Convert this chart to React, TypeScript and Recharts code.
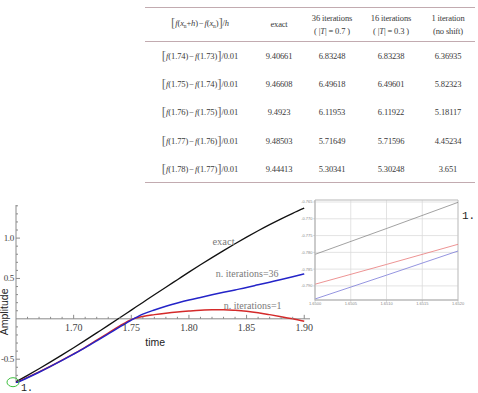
import React from "react";
import {
  CartesianGrid,
  Line,
  LineChart,
  ReferenceArea,
  ReferenceDot,
  ReferenceLine,
  XAxis,
  YAxis,
} from "recharts";

const SERIF = '"Liberation Serif", "DejaVu Serif", serif';
const SANS = '"Liberation Sans", Arial, sans-serif';
const MONO = '"Liberation Mono", "DejaVu Sans Mono", monospace';

const AXIS = "#8a8a8a";
const TICK_TEXT = "#444";
const NOTE = "#7a7a7a";
const EXACT_C = "#111111";
const IT36_C = "#2424c8";
const IT1_C = "#d42a2a";
const RULE = "#c2abb0";

// difference quotients table
const DIFF_UPPER = [1.74, 1.75, 1.76, 1.77, 1.78];
const DIFF_LOWER = [1.73, 1.74, 1.75, 1.76, 1.77];
const STEP = 0.01;
const DQ_EXACT = [9.40661, 9.46608, 9.4923, 9.48503, 9.44413];
const DQ_IT36 = [6.83248, 6.49618, 6.11953, 5.71649, 5.30341];
const DQ_IT16 = [6.83238, 6.49601, 6.11922, 5.71596, 5.30248];
const DQ_IT1 = [6.36935, 5.82323, 5.18117, 4.45234, 3.651];

// main plot
const TIME = [
  1.65, 1.66, 1.67, 1.68, 1.69, 1.7, 1.71, 1.72, 1.73, 1.74, 1.75, 1.76, 1.77,
  1.78, 1.79, 1.8, 1.81, 1.82, 1.83, 1.84, 1.85, 1.86, 1.87, 1.88, 1.89, 1.9,
];
const EXACT = [
  -0.781, -0.701, -0.619, -0.534, -0.447, -0.358, -0.267, -0.174, -0.081,
  0.013, 0.108, 0.203, 0.298, 0.392, 0.485, 0.578, 0.669, 0.758, 0.845, 0.93,
  1.012, 1.091, 1.167, 1.239, 1.307, 1.371,
];
const ITER36 = [
  -0.794, -0.73, -0.662, -0.59, -0.515, -0.437, -0.357, -0.273, -0.187, -0.1,
  -0.015, 0.058, 0.11, 0.155, 0.195, 0.232, 0.265, 0.297, 0.328, 0.358, 0.388,
  0.421, 0.454, 0.487, 0.521, 0.556,
];
const ITER1 = [
  -0.7895, -0.725, -0.658, -0.587, -0.512, -0.434, -0.353, -0.265, -0.176,
  -0.088, -0.01, 0.03, 0.052, 0.07, 0.085, 0.097, 0.107, 0.112, 0.112, 0.105,
  0.093, 0.075, 0.052, 0.027, 0.0, -0.03,
];

const X_MAJOR = [1.7, 1.75, 1.8, 1.85, 1.9];
const X_MINOR = [
  1.66, 1.67, 1.68, 1.69, 1.71, 1.72, 1.73, 1.74, 1.76, 1.77, 1.78, 1.79, 1.81,
  1.82, 1.83, 1.84, 1.86, 1.87, 1.88, 1.89,
];
const Y_MAJOR = [-0.5, 0.5, 1.0];
const Y_MINOR = [
  -0.7, -0.6, -0.4, -0.3, -0.2, -0.1, 0.1, 0.2, 0.3, 0.4, 0.6, 0.7, 0.8, 0.9,
  1.1, 1.2, 1.3, 1.4,
];

// zoom on the first two thousandths of the interval
const INSET_T = [1.65, 1.651, 1.652];
const INSET_EXACT = [-0.7806, -0.7729, -0.7651];
const INSET_IT1 = [-0.7895, -0.7836, -0.7776];
const INSET_IT36 = [-0.7939, -0.7868, -0.7796];
const INSET_X_TICKS = [1.65, 1.6505, 1.651, 1.6515, 1.652];
const INSET_Y_TICKS = [-0.79, -0.785, -0.78, -0.775, -0.77, -0.765];

const mainRows = TIME.map((t, i) => ({
  t,
  exact: EXACT[i],
  it36: ITER36[i],
  it1: ITER1[i],
}));

const insetRows = INSET_T.map((t, i) => ({
  t,
  exact: INSET_EXACT[i],
  it1: INSET_IT1[i],
  it36: INSET_IT36[i],
}));

const Br = ({ children }: { children: React.ReactNode }) => (
  <span style={{ fontSize: 13, fontWeight: 300, color: "#666", verticalAlign: "-1px" }}>
    {children}
  </span>
);

function Formula({ a, b, h }: { a: string; b: string; h: string }) {
  return (
    <span style={{ whiteSpace: "nowrap", letterSpacing: -0.1 }}>
      <Br>[</Br>
      <i>f</i>({a})<span style={{ margin: "0 1px" }}>−</span>
      <i>f</i>({b})<Br>]</Br>/{h}
    </span>
  );
}

function HeaderFormula() {
  const sub = { fontSize: 5.5, verticalAlign: "-2px" };
  return (
    <span style={{ whiteSpace: "nowrap" }}>
      <Br>[</Br>
      <i>f</i>(<i>x</i>
      <span style={sub}>n</span>+<i>h</i>)<span style={{ margin: "0 1px" }}>−</span>
      <i>f</i>(<i>x</i>
      <span style={sub}>n</span>)<Br>]</Br>/<i>h</i>
    </span>
  );
}

function Table() {
  const cell: React.CSSProperties = {
    padding: 0,
    textAlign: "center",
    verticalAlign: "middle",
    letterSpacing: -0.15,
  };
  const head: React.CSSProperties = { ...cell, lineHeight: "13px", fontWeight: 400 };
  return (
    <table
      style={{
        position: "absolute",
        left: 145,
        top: 7,
        width: 330,
        borderCollapse: "collapse",
        tableLayout: "fixed",
        fontFamily: SERIF,
        fontSize: 8.5,
        color: "#3a3a3a",
        borderTop: `1.5px solid ${RULE}`,
        borderBottom: `1.5px solid ${RULE}`,
      }}
    >
      <colgroup>
        <col style={{ width: 110 }} />
        <col style={{ width: 48 }} />
        <col style={{ width: 58 }} />
        <col style={{ width: 60 }} />
        <col style={{ width: 54 }} />
      </colgroup>
      <thead>
        <tr style={{ height: 34, borderBottom: `1px solid ${RULE}` }}>
          <th style={head}>
            <HeaderFormula />
          </th>
          <th style={head}>exact</th>
          <th style={head}>
            36 iterations
            <br />( |<i>T</i>| = 0.7 )
          </th>
          <th style={head}>
            16 iterations
            <br />( |<i>T</i>| = 0.3 )
          </th>
          <th style={head}>
            1 iteration
            <br />
            (no shift)
          </th>
        </tr>
      </thead>
      <tbody>
        {DIFF_UPPER.map((u, i) => (
          <tr key={u} style={{ height: 28.3 }}>
            <td style={cell}>
              <Formula
                a={u.toFixed(2)}
                b={DIFF_LOWER[i].toFixed(2)}
                h={STEP.toFixed(2)}
              />
            </td>
            <td style={cell}>{String(DQ_EXACT[i])}</td>
            <td style={cell}>{String(DQ_IT36[i])}</td>
            <td style={cell}>{String(DQ_IT16[i])}</td>
            <td style={cell}>{String(DQ_IT1[i])}</td>
          </tr>
        ))}
      </tbody>
    </table>
  );
}

const note =
  (text: string, style: React.SVGProps<SVGTextElement>) => (p: any) =>
    (
      <text
        x={p.cx}
        y={p.cy}
        textAnchor="middle"
        dominantBaseline="central"
        {...style}
      >
        {text}
      </text>
    );

function MainChart() {
  return (
    <div style={{ position: "absolute", left: 0, top: 195 }}>
      <LineChart
        width={320}
        height={198}
        data={mainRows}
        margin={{ top: 10, right: 10, bottom: 10, left: 16 }}
      >
        <XAxis dataKey="t" type="number" domain={[1.65, 1.905]} hide allowDataOverflow />
        <YAxis type="number" domain={[-0.795, 1.41]} hide allowDataOverflow />

        {/* axes crossing at the origin of the frame */}
        <ReferenceLine y={0} stroke={AXIS} strokeWidth={1} ifOverflow="visible" />
        <ReferenceLine x={1.65} stroke={AXIS} strokeWidth={1} ifOverflow="visible" />

        {X_MINOR.map((v) => (
          <ReferenceDot
            key={`xm${v}`}
            x={v}
            y={0}
            ifOverflow="visible"
            shape={(p: any) => (
              <line x1={p.cx} x2={p.cx} y1={p.cy} y2={p.cy - 2} stroke={AXIS} />
            )}
          />
        ))}
        {X_MAJOR.map((v) => (
          <ReferenceDot
            key={`xM${v}`}
            x={v}
            y={0}
            ifOverflow="visible"
            shape={(p: any) => (
              <g>
                <line x1={p.cx} x2={p.cx} y1={p.cy} y2={p.cy - 4} stroke={AXIS} />
                <text
                  x={p.cx}
                  y={p.cy + 9}
                  textAnchor="middle"
                  dominantBaseline="central"
                  fontFamily={SERIF}
                  fontSize={10}
                  fill={TICK_TEXT}
                >
                  {v.toFixed(2)}
                </text>
              </g>
            )}
          />
        ))}
        {Y_MINOR.map((v) => (
          <ReferenceDot
            key={`ym${v}`}
            x={1.65}
            y={v}
            ifOverflow="visible"
            shape={(p: any) => (
              <line x1={p.cx} x2={p.cx + 2} y1={p.cy} y2={p.cy} stroke={AXIS} />
            )}
          />
        ))}
        {Y_MAJOR.map((v) => (
          <ReferenceDot
            key={`yM${v}`}
            x={1.65}
            y={v}
            ifOverflow="visible"
            shape={(p: any) => (
              <g>
                <line x1={p.cx} x2={p.cx + 4} y1={p.cy} y2={p.cy} stroke={AXIS} />
                <text
                  x={p.cx - 2}
                  y={p.cy}
                  textAnchor="end"
                  dominantBaseline="central"
                  fontFamily={SERIF}
                  fontSize={9}
                  letterSpacing={-0.3}
                  fill={TICK_TEXT}
                >
                  {v.toFixed(1)}
                </text>
              </g>
            )}
          />
        ))}

        <Line
          type="monotone"
          dataKey="exact"
          stroke={EXACT_C}
          strokeWidth={1.3}
          dot={false}
          isAnimationActive={false}
        />
        <Line
          type="monotone"
          dataKey="it1"
          stroke={IT1_C}
          strokeWidth={1.5}
          dot={false}
          isAnimationActive={false}
        />
        <Line
          type="monotone"
          dataKey="it36"
          stroke={IT36_C}
          strokeWidth={1.5}
          dot={false}
          isAnimationActive={false}
        />

        <ReferenceDot
          x={1.83}
          y={0.96}
          ifOverflow="visible"
          shape={note("exact", { fontFamily: SERIF, fontSize: 10.5, fill: NOTE })}
        />
        <ReferenceDot
          x={1.8505}
          y={0.556}
          ifOverflow="visible"
          shape={note("n. iterations=36", { fontFamily: SERIF, fontSize: 10, fill: NOTE })}
        />
        <ReferenceDot
          x={1.8553}
          y={0.164}
          ifOverflow="visible"
          shape={note("n. iterations=1", { fontFamily: SERIF, fontSize: 10, fill: NOTE })}
        />
        <ReferenceDot
          x={1.7707}
          y={-0.284}
          ifOverflow="visible"
          shape={note("time", { fontFamily: SANS, fontSize: 10.5, fill: "#222" })}
        />
        <ReferenceDot
          x={1.65}
          y={0.086}
          ifOverflow="visible"
          shape={(p: any) => (
            <text
              x={p.cx - 7.5}
              y={p.cy}
              transform={`rotate(-90 ${p.cx - 7.5} ${p.cy})`}
              textAnchor="middle"
              fontFamily={SANS}
              fontSize={10.5}
              fill="#222"
            >
              Amplitude
            </text>
          )}
        />
        {/* marker on the starting point */}
        <ReferenceDot
          x={1.65}
          y={-0.785}
          ifOverflow="visible"
          shape={(p: any) => (
            <g>
              <ellipse
                cx={p.cx - 3}
                cy={p.cy}
                rx={6}
                ry={4.5}
                fill="none"
                stroke="#3cbf3c"
                strokeWidth={1}
              />
              <text
                x={p.cx + 5}
                y={p.cy + 9}
                fontFamily={MONO}
                fontSize={10}
                fill="#222"
              >
                1.
              </text>
            </g>
          )}
        />
      </LineChart>
    </div>
  );
}

function InsetChart() {
  const tick = { fontSize: 4, fill: "#888", fontFamily: SANS };
  return (
    <div style={{ position: "absolute", left: 300, top: 195 }}>
      <LineChart
        width={166}
        height={115}
        data={insetRows}
        margin={{ top: 5, right: 8, bottom: 0, left: 0 }}
      >
        <CartesianGrid stroke="#dcdcdc" strokeWidth={0.8} />
        <XAxis
          dataKey="t"
          type="number"
          domain={[1.65, 1.652]}
          ticks={INSET_X_TICKS}
          interval={0}
          tickFormatter={(v: number) => v.toFixed(4)}
          height={10}
          tick={tick}
          tickSize={1.5}
          tickMargin={1}
          stroke="#bbb"
        />
        <YAxis
          type="number"
          domain={[-0.7942, -0.7644]}
          ticks={INSET_Y_TICKS}
          interval={0}
          tickFormatter={(v: number) => v.toFixed(3)}
          width={15}
          tick={tick}
          tickSize={1.5}
          tickMargin={1}
          stroke="#bbb"
        />
        <ReferenceArea
          x1={1.65}
          x2={1.652}
          y1={-0.7942}
          y2={-0.7644}
          fill="none"
          stroke="#bbb"
          strokeWidth={0.8}
          fillOpacity={0}
        />
        <Line
          type="linear"
          dataKey="exact"
          stroke="#7a7a7a"
          strokeWidth={0.7}
          dot={false}
          isAnimationActive={false}
        />
        <Line
          type="linear"
          dataKey="it1"
          stroke="#e87878"
          strokeWidth={0.8}
          dot={false}
          isAnimationActive={false}
        />
        <Line
          type="linear"
          dataKey="it36"
          stroke="#7a7ad8"
          strokeWidth={0.8}
          dot={false}
          isAnimationActive={false}
        />
      </LineChart>
    </div>
  );
}

export default function App() {
  return (
    <div
      style={{
        position: "absolute",
        left: 0,
        top: 0,
        width: 478,
        height: 393,
        overflow: "hidden",
        background: "#fff",
      }}
    >
      <Table />
      <MainChart />
      <InsetChart />
      <div
        style={{
          position: "absolute",
          left: 462,
          top: 210,
          fontFamily: MONO,
          fontSize: 11,
          color: "#222",
        }}
      >
        1.
      </div>
    </div>
  );
}
